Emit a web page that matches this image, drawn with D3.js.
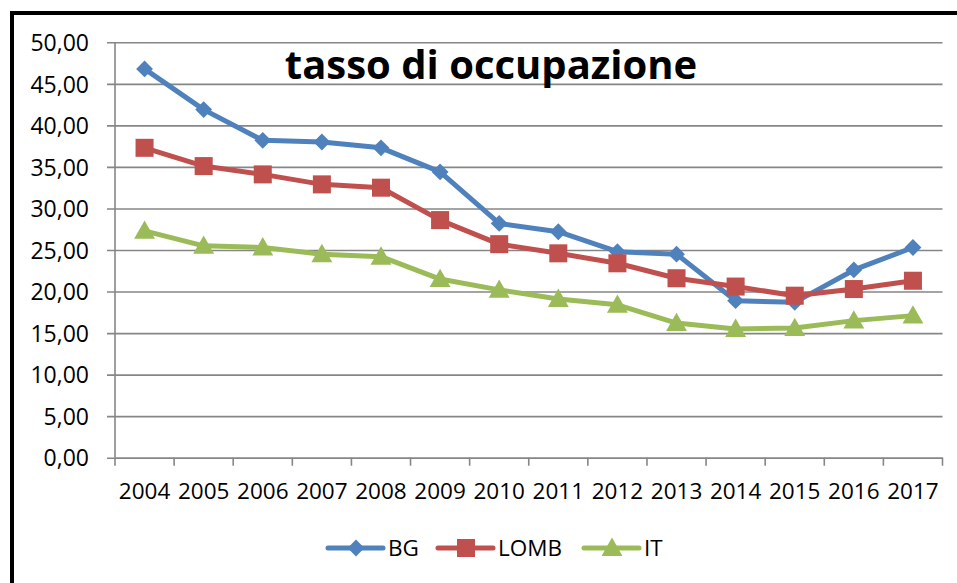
<!DOCTYPE html>
<html><head><meta charset="utf-8">
<script src="https://cdn.jsdelivr.net/npm/d3@7"></script>
<style>body{margin:0;background:#fff}svg{display:block}</style>
</head><body>
<svg id="c" width="957" height="583"></svg>
<script>
const years = ["2004","2005","2006","2007","2008","2009","2010","2011","2012","2013","2014","2015","2016","2017"];
const BG   = [46.8,41.9,38.2,38.0,37.3,34.4,28.2,27.2,24.8,24.5,18.9,18.7,22.6,25.3];
const LOMB = [37.3,35.1,34.1,32.9,32.5,28.6,25.7,24.6,23.4,21.6,20.6,19.5,20.3,21.3];
const IT   = [27.3,25.5,25.3,24.5,24.2,21.5,20.2,19.1,18.4,16.2,15.5,15.6,16.5,17.1];
const yTicks = [0,5,10,15,20,25,30,35,40,45,50];
const title = "tasso di occupazione";

const series = [
  {name:"BG", values:BG, color:"#4F81BD", shape:"diamond"},
  {name:"LOMB", values:LOMB, color:"#C0504D", shape:"square"},
  {name:"IT", values:IT, color:"#9BBB59", shape:"triangle"}
];

const svg = d3.select("#c");
const font = "'Open Sans', 'DejaVu Sans', sans-serif";
const L = 115, R = 942.5, T = 42.3, B = 457.7;

svg.append("rect").attr("x",12).attr("y",13).attr("width",1000).attr("height",1000)
  .attr("fill","none").attr("stroke","#000").attr("stroke-width",4);

const x = d3.scaleBand().domain(years).range([L,R]);
const y = d3.scaleLinear().domain([0,50]).range([B,T]);

// grid
const yAxis = d3.axisLeft(y).tickValues(yTicks).tickSize(-(R-L)).tickPadding(26)
  .tickFormat(d => d3.format(".2f")(d).replace(".", ","));
const gy = svg.append("g").attr("transform",`translate(${L},0)`).call(yAxis);
gy.select(".domain").remove();
gy.selectAll(".tick line").attr("stroke","#868686").attr("stroke-width",1.6).attr("x1",-8);
gy.selectAll(".tick text").attr("font-family",font).attr("font-size",23).attr("fill","#000").attr("dy","0.36em");

// y axis line
svg.append("line").attr("x1",L).attr("x2",L).attr("y1",T).attr("y2",B)
  .attr("stroke","#868686").attr("stroke-width",1.6);

const xAxis = d3.axisBottom(x).tickSize(0).tickPadding(25);
const gx = svg.append("g").attr("transform",`translate(0,${B})`).call(xAxis);
gx.select(".domain").attr("stroke","#868686").attr("stroke-width",1.6);
gx.selectAll(".tick text").attr("font-family",font).attr("font-size",22.5).attr("fill","#000");
// category boundary ticks
const bounds = years.map(d => x(d)).concat([R]);
svg.append("g").selectAll("line").data(bounds).join("line")
  .attr("x1",d=>d).attr("x2",d=>d).attr("y1",B).attr("y2",B+8)
  .attr("stroke","#868686").attr("stroke-width",1.6);

function marker(shape, s) {
  if (shape==="diamond") return d3.symbol().type(d3.symbolDiamond2).size(s*s*0.5)();
  if (shape==="square") return d3.symbol().type(d3.symbolSquare).size(s*s*0.9)();
  return `M0,${-s*0.55}L${s*0.55},${s*0.42}L${-s*0.55},${s*0.42}Z`;
}

const line = d3.line().x((d,i)=>x(years[i])+x.bandwidth()/2).y(d=>y(d));
series.forEach(s => {
  const g = svg.append("g");
  g.append("path").attr("d",line(s.values)).attr("fill","none")
    .attr("stroke",s.color).attr("stroke-width",5).attr("stroke-linejoin","round").attr("stroke-linecap","round");
  g.selectAll("path.m").data(s.values).join("path").attr("class","m")
    .attr("transform",(d,i)=>`translate(${x(years[i])+x.bandwidth()/2},${y(d)})`)
    .attr("d",marker(s.shape,19)).attr("fill",s.color);
});

svg.append("text").attr("x",491).attr("y",79).attr("text-anchor","middle")
  .attr("font-family",font).attr("font-weight","bold").attr("font-size",40).attr("fill","#000")
  .text(title);

// legend
const legX = [328, 438, 584];
series.forEach((s,i) => {
  const g = svg.append("g").attr("transform",`translate(${legX[i]},548)`);
  g.append("line").attr("x1",0).attr("x2",55).attr("stroke",s.color).attr("stroke-width",5).attr("stroke-linecap","round");
  g.append("path").attr("transform","translate(28,0)").attr("d",marker(s.shape,19)).attr("fill",s.color);
  g.append("text").attr("x",60).attr("y",0).attr("dy","0.36em").attr("font-family",font).attr("font-size",22.5).attr("fill","#000").text(s.name);
});
</script>
</body></html>
